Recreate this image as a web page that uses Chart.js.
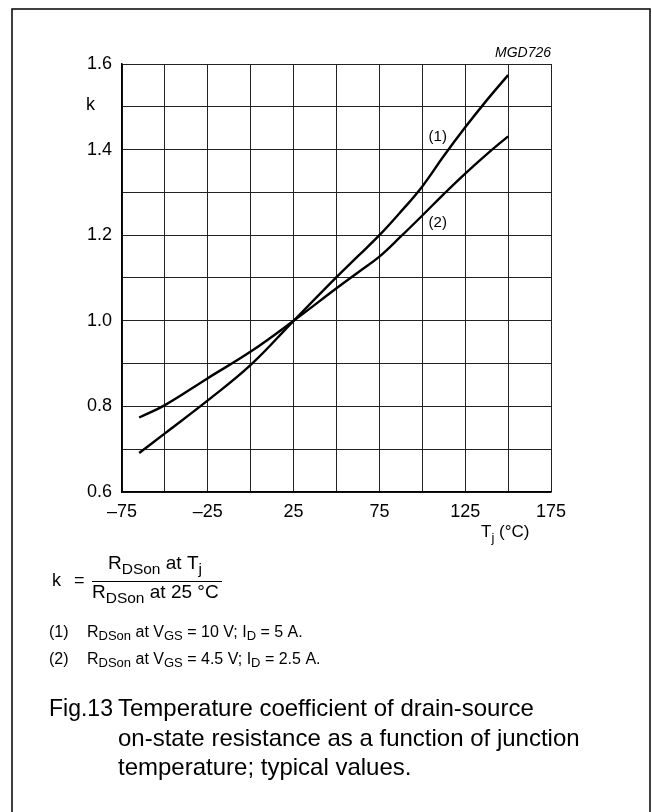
<!DOCTYPE html>
<html>
<head>
<meta charset="utf-8">
<script src="https://cdn.jsdelivr.net/npm/chart.js@4.4.1/dist/chart.umd.min.js"></script>
<style>
  html, body { margin: 0; padding: 0; background: #fff; }
  canvas { display: block; }
</style>
</head>
<body>
<canvas id="fig" width="652" height="812"></canvas>
<script>
// ── Data ─────────────────────────────────────────────────
const temps   = [-65, -50, -25, 0, 25, 50, 62.5, 75, 87.5, 100, 112.5, 125, 137.5, 150]; // Tj (°C)
const kCurve1 = [0.691, 0.737, 0.814, 0.897, 1.0, 1.102, 1.151, 1.2, 1.255, 1.314, 1.385, 1.452, 1.515, 1.574]; // VGS = 10 V
const kCurve2 = [0.774, 0.803, 0.866, 0.928, 1.0, 1.076, 1.113, 1.150, 1.197, 1.246, 1.296, 1.344, 1.389, 1.431]; // VGS = 4.5 V
const xTickLabels = [-75, -25, 25, 75, 125, 175];
const yTickLabels = [0.6, 0.8, 1.0, 1.2, 1.4, 1.6];
const curveNames = ['(1)', '(2)'];

const FONT = '"Liberation Sans", Arial, Helvetica, sans-serif';

// draw a run of [text, size, dy] pieces from x, baseline y
function drawRuns(ctx, x, y, runs) {
  let cx = x;
  runs.forEach(([txt, size, dy]) => {
    ctx.font = `${size}px ${FONT}`;
    ctx.fillText(txt, cx, y + (dy || 0));
    cx += ctx.measureText(txt).width;
  });
  return cx;
}

/** Extra page text: frame, axis titles, formula, notes and caption */
const pageText = {
  id: 'pageText',
  afterDraw(chart) {
    const { ctx, scales } = chart;
    ctx.save();
    ctx.fillStyle = '#000';
    ctx.strokeStyle = '#000';
    ctx.textBaseline = 'alphabetic';

    // outer frame
    ctx.lineWidth = 1.5;
    ctx.strokeRect(12, 9, 638, 830);

    // drawing number
    ctx.font = `italic 14px ${FONT}`;
    ctx.textAlign = 'right';
    ctx.fillText('MGD726', chart.chartArea.right, 57);

    // y title
    ctx.textAlign = 'left';
    ctx.font = `18px ${FONT}`;
    ctx.fillText('k', 86, 110);

    // x title
    drawRuns(ctx, 481, 537, [['T', 17], ['j', 13, 5], [' (°C)', 17]]);

    // curve labels placed by the data scales
    ctx.font = `15px ${FONT}`;
    ctx.textAlign = 'center';
    ctx.textBaseline = 'middle';
    ctx.fillText(curveNames[0], scales.x.getPixelForValue(109), scales.y.getPixelForValue(1.43));
    ctx.fillText(curveNames[1], scales.x.getPixelForValue(109), scales.y.getPixelForValue(1.228));
    ctx.textAlign = 'left';
    ctx.textBaseline = 'alphabetic';

    // k = RDSon at Tj / RDSon at 25 °C
    ctx.font = `18px ${FONT}`;
    ctx.fillText('k', 52, 586);
    ctx.fillText('=', 74, 586);
    drawRuns(ctx, 108, 569, [['R', 19], ['DSon', 15.5, 5], [' at T', 19], ['j', 15.5, 5]]);
    ctx.lineWidth = 1;
    ctx.beginPath();
    ctx.moveTo(92, 581.5);
    ctx.lineTo(222, 581.5);
    ctx.stroke();
    drawRuns(ctx, 92, 598, [['R', 19], ['DSon', 15.5, 5], [' at 25 °C', 19]]);

    // notes
    drawRuns(ctx, 49, 637, [['(1)', 16]]);
    drawRuns(ctx, 87, 637, [['R', 16], ['DSon', 13, 3], [' at V', 16], ['GS', 13, 3],
      [' = 10 V; I', 16], ['D', 13, 3], [' = 5 A.', 16]]);
    drawRuns(ctx, 49, 664, [['(2)', 16]]);
    drawRuns(ctx, 87, 664, [['R', 16], ['DSon', 13, 3], [' at V', 16], ['GS', 13, 3],
      [' = 4.5 V; I', 16], ['D', 13, 3], [' = 2.5 A.', 16]]);

    // caption
    ctx.font = `23px ${FONT}`;
    ctx.fillText('Fig.13', 49, 716);
    ctx.font = `24px ${FONT}`;
    ctx.fillText('Temperature coefficient of drain-source', 118, 716);
    ctx.fillText('on-state resistance as a function of junction', 118, 746);
    ctx.fillText('temperature; typical values.', 118, 775);

    ctx.restore();
  },
};

const ctx = document.getElementById('fig').getContext('2d');

const lineStyle = {
  showLine: true,
  borderColor: '#000',
  borderWidth: 2.4,
  pointRadius: 0,
  fill: false,
  tension: 0.4,
};

new Chart(ctx, {
  type: 'scatter',
  data: {
    datasets: [
      { label: curveNames[0], data: temps.map((t, i) => ({ x: t, y: kCurve1[i] })), ...lineStyle },
      { label: curveNames[1], data: temps.map((t, i) => ({ x: t, y: kCurve2[i] })), ...lineStyle },
    ],
  },
  options: {
    responsive: false,
    animation: false,
    devicePixelRatio: 1,
    layout: { padding: { left: 0, top: 64, right: 101, bottom: 280 } },
    plugins: { legend: { display: false }, tooltip: { enabled: false } },
    scales: {
      x: {
        type: 'linear',
        min: -75,
        max: 175,
        afterFit(scale) { scale.height = 40; },
        ticks: {
          stepSize: 25,
          autoSkip: false,
          maxRotation: 0,
          padding: 9,
          color: '#000',
          font: { family: FONT, size: 18 },
          callback: (v) => (xTickLabels.includes(v) ? String(v).replace('-', '\u2013') : ''),
        },
        grid: { color: '#222', lineWidth: 1, drawTicks: false },
        border: { color: '#000', width: 1.5 },
      },
      y: {
        type: 'linear',
        min: 0.6,
        max: 1.6,
        afterFit(scale) { scale.width = 122; },
        ticks: {
          stepSize: 0.1,
          autoSkip: false,
          padding: 10,
          color: '#000',
          font: { family: FONT, size: 18 },
          callback: (v) => (yTickLabels.some((t) => Math.abs(t - v) < 1e-6) ? v.toFixed(1) : ''),
        },
        grid: { color: '#222', lineWidth: 1, drawTicks: false },
        border: { color: '#000', width: 1.5 },
      },
    },
  },
  plugins: [pageText],
});
</script>
</body>
</html>
